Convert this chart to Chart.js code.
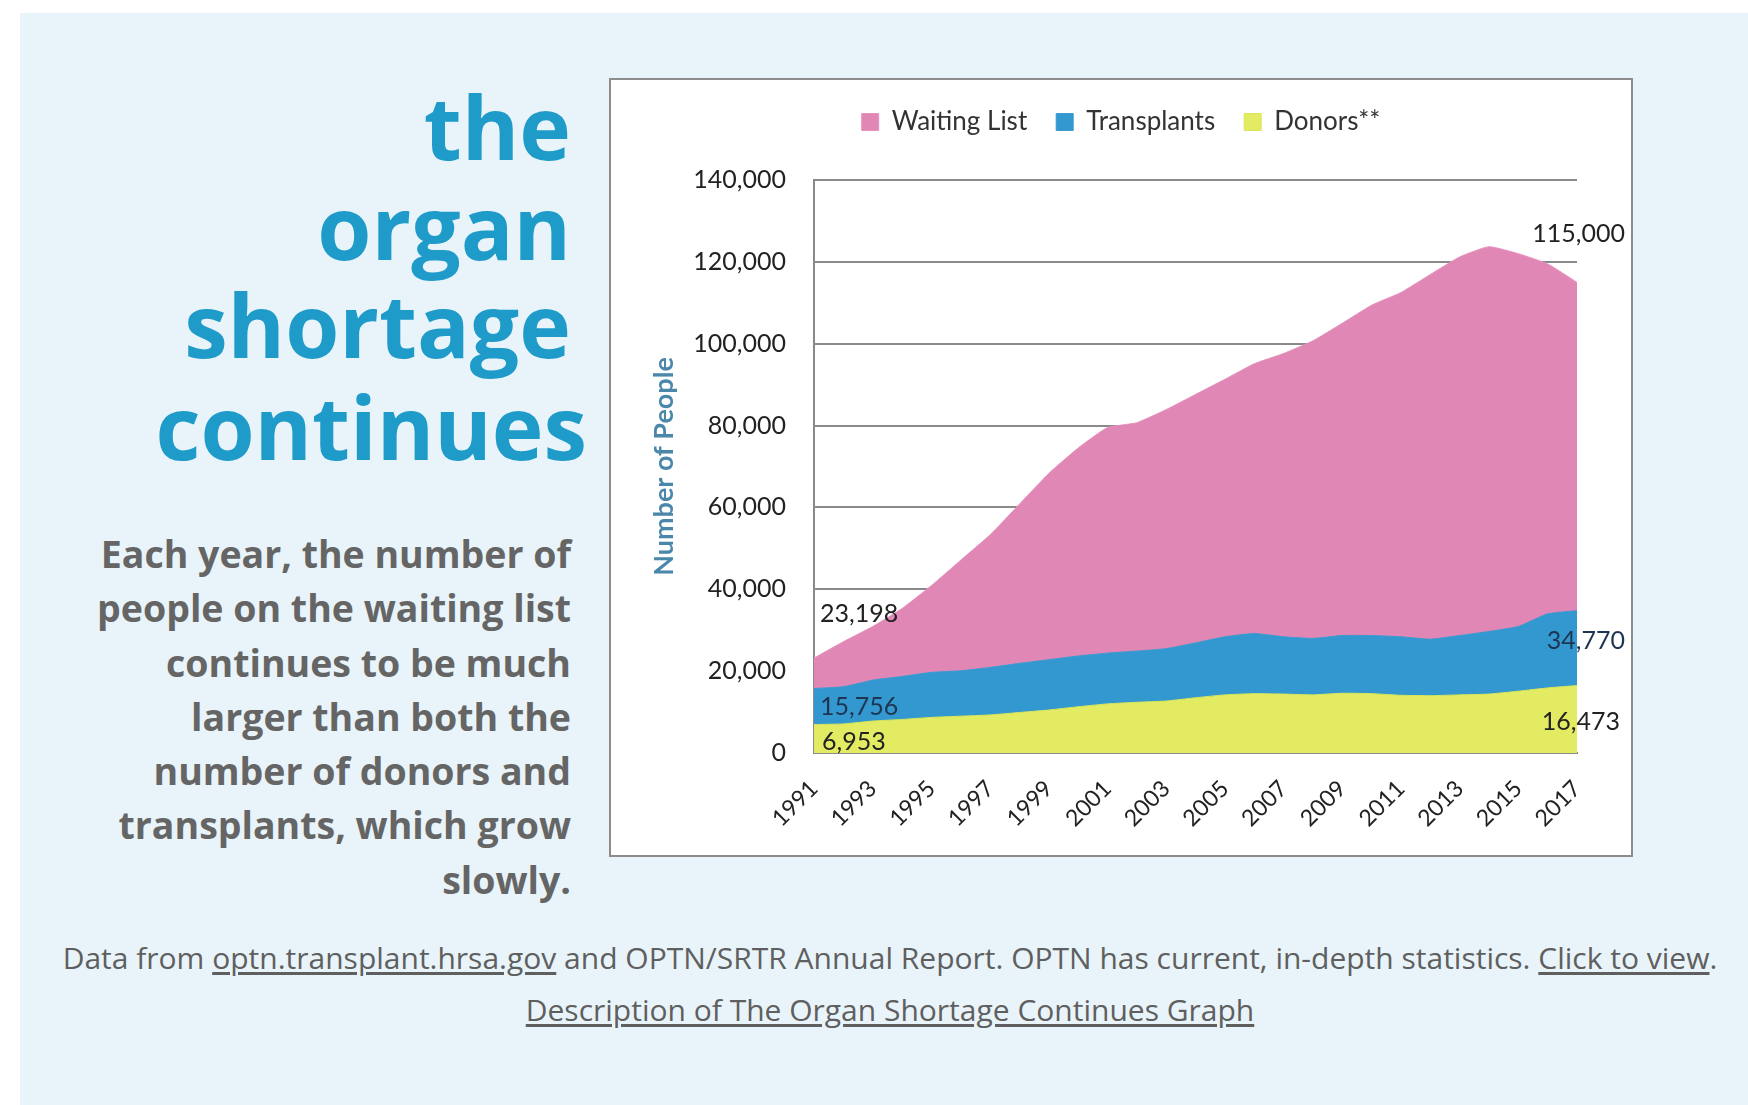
<!DOCTYPE html>
<html>
<head>
<meta charset="utf-8">
<script src="https://cdn.jsdelivr.net/npm/chart.js@4.4.1/dist/chart.umd.min.js"></script>
<style>
  html, body { margin:0; padding:0; }
  body { width:1748px; height:1105px; background:#ffffff; position:relative; overflow:hidden; font-family:"Open Sans", sans-serif; }
  #panel { position:absolute; left:20px; top:13px; right:0; bottom:0; background:#e8f4f9; }
  .tl { position:absolute; left:0; font-weight:700; font-size:87.5px; line-height:87.5px; color:#1f9bca; text-align:right; white-space:nowrap; }
  #para { position:absolute; left:0; width:571px; top:527px; font-weight:700; font-size:37.5px; line-height:54.3px; color:#656565; text-align:right; white-space:nowrap; }
  .foot { position:absolute; left:32px; right:0; font-size:30px; line-height:30px; color:#5f5f5f; text-align:center; white-space:nowrap; }
  .foot u { text-decoration:underline; text-underline-offset:3px; }
  #box { position:absolute; left:609px; top:78px; width:1024px; height:779px; box-sizing:border-box; border:2px solid #8c8c8c; background:#ffffff; }
  #c { position:absolute; left:0; top:0; }
</style>
</head>
<body>
<div id="panel"></div>
<div class="tl" style="top:83px;width:571px">the</div>
<div class="tl" style="top:183px;width:571px">organ</div>
<div class="tl" style="top:281px;width:571px">shortage</div>
<div class="tl" style="top:383px;width:587px">continues</div>
<div id="para">Each year, the number of<br>people on the waiting list<br>continues to be much<br>larger than both the<br>number of donors and<br>transplants, which grow<br>slowly.</div>
<div class="foot" style="top:943px">Data from <u>optn.transplant.hrsa.gov</u> and OPTN/SRTR Annual Report. OPTN has current, in-depth statistics. <u>Click to view</u>.</div>
<div class="foot" style="top:995px"><u>Description of The Organ Shortage Continues Graph</u></div>
<div id="box"><canvas id="c" width="1020" height="775"></canvas></div>
<script>
// ---- data ----
const years = [1991,1992,1993,1994,1995,1996,1997,1998,1999,2000,2001,2002,2003,2004,2005,2006,2007,2008,2009,2010,2011,2012,2013,2014,2015,2016,2017];
const waitingList = [23198,27200,30900,35300,40900,47100,53300,60800,68300,74500,79500,80700,83900,87600,91300,95100,97600,100700,105000,109400,112500,116900,121200,123700,122000,119500,115000];
const transplants = [15756,16200,17800,18700,19700,20100,20900,21900,22800,23700,24400,24900,25500,26900,28400,29200,28400,28000,28700,28700,28400,27800,28700,29700,30900,34000,34770];
const donors = [6953,7100,7800,8200,8700,9000,9300,9900,10500,11300,12000,12400,12700,13500,14200,14500,14400,14200,14600,14500,14100,14000,14200,14400,15100,15900,16473];
const seriesNames = ['Waiting List','Transplants','Donors**'];
const yTicks = [0,20000,40000,60000,80000,100000,120000,140000];
const endValueLabels = [
  [23198, 115000],
  [15756, 34770],
  [6953, 16473]
];

const fmt = v => v.toLocaleString('en-US');

const endLabels = {
  id: 'endLabels',
  afterDatasetsDraw(chart, args, opts) {
    const ctx = chart.ctx;
    ctx.save();
    ctx.font = '25px Lato';
    ctx.textBaseline = 'middle';
    opts.spots.forEach(s => {
      const meta = chart.getDatasetMeta(s.ds);
      const idx = s.end ? meta.data.length - 1 : 0;
      const pt = meta.data[idx];
      const val = endValueLabels[s.ds][s.end ? 1 : 0];
      ctx.textAlign = s.align;
      ctx.fillStyle = s.color || '#222222';
      ctx.fillText(fmt(val), pt.x + s.dx, pt.y + s.dy);
    });
    ctx.restore();
  }
};

Chart.defaults.font.family = 'Lato';
Chart.defaults.color = '#222222';

new Chart(document.getElementById('c'), {
  type: 'line',
  data: {
    labels: years,
    datasets: [
      { label: seriesNames[0], data: waitingList, backgroundColor: '#e087b5', borderColor: '#e692bd', borderWidth: 1, fill: 'origin', pointRadius: 0, tension: 0.15, order: 2 },
      { label: seriesNames[1], data: transplants, backgroundColor: '#3398cf', borderColor: '#3a9bd0', borderWidth: 1, fill: 'origin', pointRadius: 0, tension: 0.15, order: 1 },
      { label: seriesNames[2], data: donors, backgroundColor: '#e3eb63', borderColor: '#d9e65a', borderWidth: 1, fill: 'origin', pointRadius: 0, tension: 0.15, order: 0 }
    ]
  },
  options: {
    responsive: false,
    animation: false,
    devicePixelRatio: 1,
    layout: { padding: { top: 0, left: 0, right: 0, bottom: 0 } },
    plugins: {
      legend: {
        position: 'top',
        labels: {
          boxWidth: 17, boxHeight: 17, padding: 29,
          font: { size: 26 }, color: '#333333',
          sort: (a, b) => a.datasetIndex - b.datasetIndex
        }
      },
      title: { display: true, text: '', weight: 500, font: { size: 13, lineHeight: 1 }, padding: { top: 22, bottom: 0 } },
      tooltip: { enabled: false },
      endLabels: {
        spots: [
          { ds: 0, end: false, align: 'left', dx: 6, dy: -44 },
          { ds: 0, end: true, align: 'right', dx: 48, dy: -48 },
          { ds: 1, end: false, align: 'left', dx: 6, dy: 18, color: '#1d3550' },
          { ds: 1, end: true, align: 'right', dx: 48, dy: 30, color: '#1d3550' },
          { ds: 2, end: false, align: 'left', dx: 8, dy: 17 },
          { ds: 2, end: true, align: 'right', dx: 43, dy: 36 }
        ]
      }
    },
    scales: {
      x: {
        type: 'category',
        offset: false,
        grid: { display: false },
        border: { display: true, color: '#8a8a8a', width: 2 },
        ticks: {
          autoSkip: false, minRotation: 45, maxRotation: 45, padding: 14,
          font: { size: 23 }, color: '#222222',
          callback: function(v, i) { return i % 2 === 0 ? String(years[i]) : ''; }
        },
        afterFit: s => { s.height = 102; }
      },
      y: {
        min: 0, max: 140000,
        afterBuildTicks: s => { s.ticks = yTicks.map(v => ({ value: v })); },
        grid: { color: '#8a8a8a', lineWidth: 2, drawTicks: false },
        border: { display: true, color: '#8a8a8a', width: 2 },
        ticks: { padding: 28, font: { size: 25 }, color: '#222222', callback: v => fmt(v) },
        title: { display: true, text: 'Number of People', color: '#4a87aa', font: { size: 27, weight: 'bold', lineHeight: 1.2 }, padding: { top: 37, bottom: 0 } },
        afterFit: s => { s.width = 203; }
      },
      yRight: {
        position: 'right',
        min: 0, max: 140000,
        grid: { display: false, drawTicks: false },
        border: { display: false },
        ticks: { display: false },
        afterFit: s => { s.width = 54; }
      }
    }
  },
  plugins: [endLabels]
});
</script>
</body>
</html>
